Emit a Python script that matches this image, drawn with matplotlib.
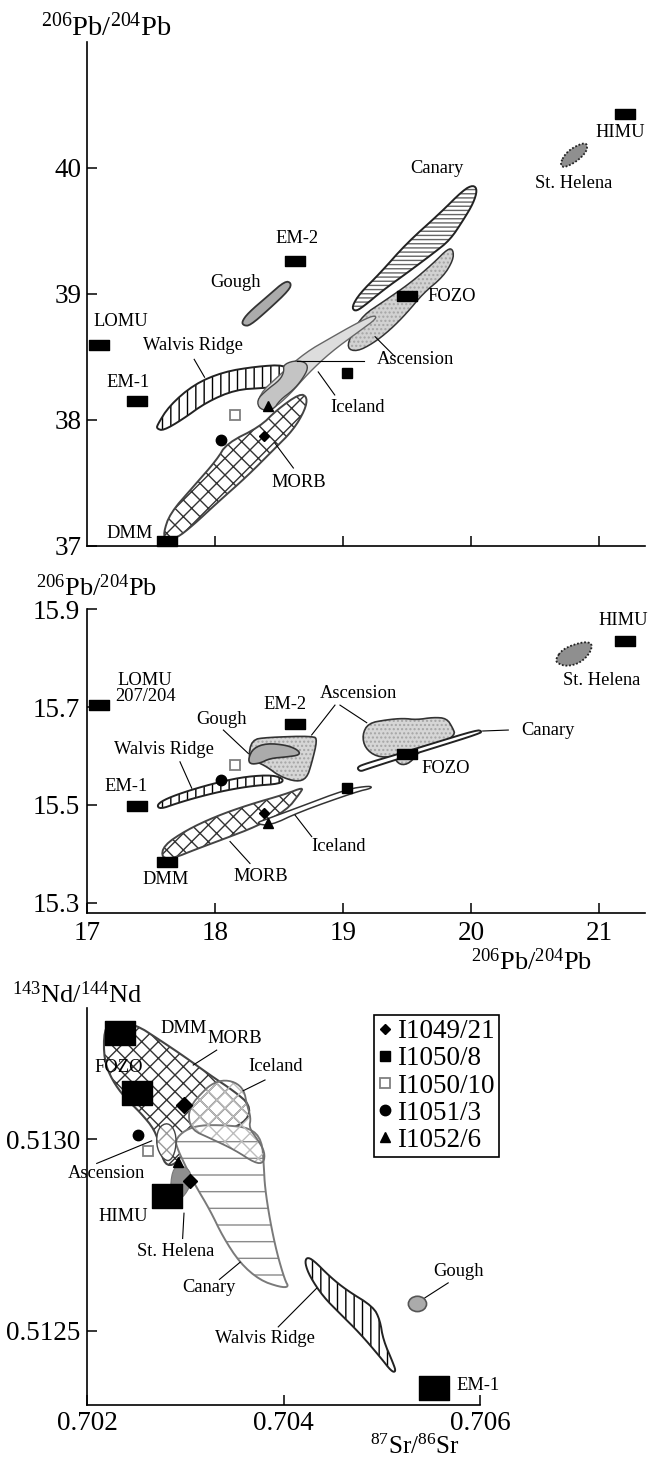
import numpy as np
import matplotlib
matplotlib.use('Agg')
import matplotlib.pyplot as plt
from matplotlib.patches import Polygon, Ellipse
from matplotlib.path import Path
from matplotlib.lines import Line2D

plt.rcParams['font.family'] = ['Liberation Serif', 'DejaVu Serif']
plt.rcParams['mathtext.fontset'] = 'custom'
plt.rcParams['mathtext.rm'] = 'Liberation Serif'
plt.rcParams['mathtext.it'] = 'Liberation Serif:italic'
plt.rcParams['hatch.linewidth'] = 1.0

# ---------------- sample data ----------------
sample_names = ['I1049/21', 'I1050/8', 'I1050/10', 'I1051/3', 'I1052/6']
pb206_samples = [18.38, 19.025, 18.15, 18.045, 18.41]
pb208_samples = [37.87, 38.37, 38.04, 37.84, 38.11]
pb207_samples = [15.484, 15.534, 15.581, 15.551, 15.463]
sr_samples = [0.70305, 0.70298, 0.70262, 0.70252, 0.70292]
nd_samples = [0.51289, 0.51309, 0.51297, 0.51301, 0.51294]

# ---------------- end members ----------------
em_names = ['DMM', 'EM-1', 'EM-2', 'HIMU', 'FOZO', 'LOMU']
em_pb206 = [17.62, 17.39, 18.62, 21.20, 19.50, 17.09]
em_pb208 = [37.04, 38.147, 39.26, 40.43, 38.986, 38.594]
em_pb207 = [15.384, 15.498, 15.665, 15.836, 15.605, 15.704]
em3_names = ['DMM', 'FOZO', 'HIMU', 'EM-1']
em3_sr = [0.702333, 0.702508, 0.702809, 0.705533]
em3_nd = [0.513278, 0.513120, 0.512851, 0.512350]

# ---------------- fields: 206Pb/204Pb vs 208Pb/204Pb ----------------
morb1_x = [17.594, 17.646, 17.828, 18.011, 18.089, 18.349, 18.480, 18.662, 18.719, 18.701, 18.609, 18.453, 18.245, 18.011, 17.828, 17.698, 17.615]
morb1_y = [37.098, 37.257, 37.469, 37.681, 37.813, 37.945, 38.078, 38.210, 38.179, 38.078, 37.919, 37.760, 37.548, 37.337, 37.164, 37.059, 37.051]
iceland1_x = [18.336, 18.513, 18.707, 18.901, 19.095, 19.240, 19.262, 19.127, 18.901, 18.723, 18.578, 18.448, 18.352]
iceland1_y = [38.197, 38.366, 38.536, 38.650, 38.762, 38.832, 38.805, 38.705, 38.536, 38.366, 38.197, 38.083, 38.083]
canary1_x = [19.066, 19.130, 19.287, 19.495, 19.755, 19.938, 20.016, 20.047, 20.016, 19.938, 19.834, 19.703, 19.495, 19.313, 19.156, 19.091]
canary1_y = [38.898, 39.005, 39.164, 39.402, 39.640, 39.825, 39.865, 39.825, 39.720, 39.587, 39.428, 39.322, 39.164, 39.031, 38.898, 38.859]
ascA1_x = [19.027, 19.066, 19.156, 19.313, 19.521, 19.703, 19.820, 19.859, 19.859, 19.781, 19.625, 19.495, 19.365, 19.234, 19.105]
ascA1_y = [38.568, 38.687, 38.832, 38.938, 39.084, 39.243, 39.362, 39.349, 39.269, 39.137, 39.005, 38.846, 38.713, 38.608, 38.541]
ascB1_x = [18.531, 18.609, 18.701, 18.727, 18.675, 18.609, 18.505, 18.453, 18.349, 18.323, 18.402, 18.505, 18.537]
ascB1_y = [38.435, 38.469, 38.461, 38.409, 38.316, 38.237, 38.157, 38.078, 38.078, 38.157, 38.237, 38.316, 38.382]
walvis1_x = [17.545, 17.641, 17.835, 18.061, 18.320, 18.545, 18.594, 18.562, 18.384, 18.158, 17.932, 17.738, 17.593, 17.545]
walvis1_y = [37.956, 38.112, 38.282, 38.380, 38.423, 38.437, 38.366, 38.268, 38.253, 38.239, 38.141, 37.999, 37.914, 37.929]
gough1_x = [18.206, 18.255, 18.416, 18.545, 18.594, 18.578, 18.416, 18.271, 18.223]
gough1_y = [38.776, 38.847, 38.988, 39.102, 39.087, 39.031, 38.875, 38.748, 38.748]
sthel1_x = [20.693, 20.745, 20.849, 20.906, 20.902, 20.823, 20.719]
sthel1_y = [40.037, 40.129, 40.191, 40.196, 40.129, 40.050, 39.998]

# ---------------- fields: 206Pb/204Pb vs 207Pb/204Pb ----------------
walvis2_x = [17.542, 17.620, 17.802, 18.036, 18.245, 18.453, 18.537, 18.505, 18.297, 18.089, 17.880, 17.698, 17.568]
walvis2_y = [15.500, 15.513, 15.530, 15.547, 15.558, 15.561, 15.552, 15.543, 15.539, 15.530, 15.517, 15.503, 15.491]
morb2_x = [17.596, 17.773, 18.000, 18.259, 18.550, 18.688, 18.662, 18.558, 18.323, 18.065, 17.838, 17.677, 17.580]
morb2_y = [15.417, 15.448, 15.476, 15.500, 15.522, 15.536, 15.524, 15.489, 15.456, 15.430, 15.408, 15.391, 15.391]
iceland2_x = [18.310, 18.414, 18.662, 19.027, 19.209, 19.224, 19.105, 18.662, 18.427]
iceland2_y = [15.462, 15.472, 15.496, 15.532, 15.539, 15.534, 15.527, 15.486, 15.457]
ascA2_x = [18.284, 18.402, 18.766, 18.797, 18.753, 18.714, 18.636, 18.505, 18.402, 18.323, 18.258]
ascA2_y = [15.633, 15.638, 15.641, 15.633, 15.585, 15.554, 15.547, 15.558, 15.578, 15.588, 15.595]
gough2_x = [18.258, 18.297, 18.402, 18.558, 18.648, 18.662, 18.558, 18.427, 18.349, 18.271]
gough2_y = [15.595, 15.616, 15.626, 15.622, 15.612, 15.602, 15.598, 15.595, 15.585, 15.583]
ascB2_x = [19.148, 19.195, 19.339, 19.469, 19.573, 19.703, 19.808, 19.855, 19.875, 19.755, 19.599, 19.521, 19.443, 19.391, 19.261, 19.170]
ascB2_y = [15.643, 15.667, 15.674, 15.677, 15.674, 15.679, 15.677, 15.657, 15.643, 15.623, 15.612, 15.585, 15.581, 15.598, 15.598, 15.616]
canary2_x = [19.105, 19.183, 19.443, 19.703, 20.042, 20.081, 20.068, 19.703, 19.443, 19.183, 19.130]
canary2_y = [15.577, 15.585, 15.605, 15.626, 15.653, 15.651, 15.646, 15.616, 15.595, 15.573, 15.568]
sthel2_x = [20.662, 20.719, 20.875, 20.948, 20.927, 20.849, 20.745, 20.667]
sthel2_y = [15.800, 15.820, 15.834, 15.830, 15.810, 15.790, 15.783, 15.790]

# ---------------- fields: 87Sr/86Sr vs 143Nd/144Nd ----------------
morb3_x = [0.702170, 0.702252, 0.702486, 0.702740, 0.702995, 0.703249, 0.703504, 0.703657, 0.703636, 0.703402, 0.703148, 0.702995, 0.702893, 0.702791, 0.702740, 0.702689, 0.702537, 0.702384, 0.702252, 0.702170]
morb3_y = [0.513286, 0.513306, 0.513301, 0.513259, 0.513215, 0.513168, 0.513124, 0.513090, 0.513050, 0.513019, 0.512998, 0.512972, 0.512933, 0.512933, 0.512977, 0.513024, 0.513071, 0.513108, 0.513155, 0.513207]
iceland3_x = [0.703148, 0.703250, 0.703372, 0.703504, 0.703596, 0.703626, 0.703667, 0.703647, 0.703738, 0.703808, 0.703798, 0.703707, 0.703504, 0.703250, 0.703066, 0.703025, 0.703076]
iceland3_y = [0.513116, 0.513142, 0.513155, 0.513150, 0.513129, 0.513090, 0.513056, 0.513030, 0.512998, 0.512967, 0.512938, 0.512938, 0.512972, 0.513003, 0.513024, 0.513063, 0.513095]
canary3_x = [0.702893, 0.702995, 0.703148, 0.703402, 0.703657, 0.703779, 0.703799, 0.703809, 0.703860, 0.703931, 0.704013, 0.704053, 0.703962, 0.703758, 0.703555, 0.703382, 0.703250, 0.703097, 0.702995, 0.702924]
canary3_y = [0.512998, 0.513024, 0.513037, 0.513037, 0.513030, 0.512998, 0.512927, 0.512875, 0.512789, 0.512703, 0.512632, 0.512614, 0.512614, 0.512632, 0.512677, 0.512745, 0.512815, 0.512881, 0.512933, 0.512972]
sthel3_x = [0.702863, 0.702944, 0.703046, 0.703066, 0.702995, 0.702924, 0.702842]
sthel3_y = [0.512920, 0.512933, 0.512920, 0.512888, 0.512854, 0.512841, 0.512854]
asc3_x = [0.702720, 0.702822, 0.702903, 0.702903, 0.702842, 0.702761, 0.702700]
asc3_y = [0.513030, 0.513045, 0.513019, 0.512972, 0.512941, 0.512951, 0.512985]
walvis3_x = [0.704234, 0.704301, 0.704472, 0.704641, 0.704912, 0.704981, 0.705014, 0.705116, 0.705144, 0.705100, 0.704981, 0.704777, 0.704573, 0.704403, 0.704268, 0.704217]
walvis3_y = [0.512692, 0.512685, 0.512641, 0.512606, 0.512563, 0.512528, 0.512476, 0.512415, 0.512393, 0.512393, 0.512432, 0.512493, 0.512545, 0.512589, 0.512641, 0.512676]
gough3_center = [0.705363, 0.512570]

# ---------------- helpers ----------------
W, H = 648, 1459
fig = plt.figure(figsize=(W / 100, H / 100), dpi=100)


def px_axes(x0, x1, y_top, y_bot):
    return fig.add_axes([x0 / W, 1 - y_bot / H, (x1 - x0) / W, (y_bot - y_top) / H])


def smooth(xs, ys, n=2):
    p = np.column_stack([xs, ys]).astype(float)
    for _ in range(n):
        q = np.roll(p, -1, axis=0)
        p = np.stack([0.75 * p + 0.25 * q, 0.25 * p + 0.75 * q], axis=1).reshape(-1, 2)
    return p


def field(ax, xs, ys, face='white', edge='black', lw=1.0, hatch=None, hcol='black', ls='-', z=2, n=2):
    pts = smooth(xs, ys, n)
    if hatch:
        ax.add_patch(Polygon(pts, closed=True, facecolor=face, edgecolor=hcol, lw=0,
                             hatch=hatch, zorder=z))
        ax.add_patch(Polygon(pts, closed=True, facecolor='none', edgecolor=edge, lw=lw,
                             ls=ls, zorder=z + 0.01, joinstyle='round'))
    else:
        ax.add_patch(Polygon(pts, closed=True, facecolor=face, edgecolor=edge, lw=lw,
                             ls=ls, zorder=z, joinstyle='round'))


rect_small = Path([(-1, -0.5), (1, -0.5), (1, 0.5), (-1, 0.5), (-1, -0.5)],
                  [Path.MOVETO, Path.LINETO, Path.LINETO, Path.LINETO, Path.CLOSEPOLY])
rect_big = Path([(-1, -0.78), (1, -0.78), (1, 0.78), (-1, 0.78), (-1, -0.78)],
                [Path.MOVETO, Path.LINETO, Path.LINETO, Path.LINETO, Path.CLOSEPOLY])

LAB = 13.3
TICK = 19.5


def label(ax, x, y, s, ha='center', fs=LAB):
    ax.text(x, y, s, ha=ha, va='center', fontsize=fs, zorder=10)


def leader(ax, p0, p1):
    ax.plot([p0[0], p1[0]], [p0[1], p1[1]], color='black', lw=0.8, zorder=9)


def style(ax):
    for s in ['top', 'right']:
        ax.spines[s].set_visible(False)
    for s in ['left', 'bottom']:
        ax.spines[s].set_linewidth(1.2)
    ax.tick_params(direction='in', length=7, width=1.1, labelsize=TICK)


sample_style = [
    dict(marker='D', ms=5.5, mfc='black', mec='black'),
    dict(marker='s', ms=6.5, mfc='black', mec='black'),
    dict(marker='s', ms=7, mfc='white', mec='#808080', mew=1.3),
    dict(marker='o', ms=7.5, mfc='black', mec='black'),
    dict(marker='^', ms=7.5, mfc='black', mec='black'),
]

# ================= Panel 1 =================
ax1 = px_axes(87.3, 645, 42, 545.7)
style(ax1)
ax1.set_xlim(17, 21.357)
ax1.set_ylim(37, 41.0)
ax1.set_xticks([18, 19, 20, 21])
ax1.set_yticks([37, 38, 39, 40])
ax1.tick_params(axis='x', labelbottom=False)
ax1.tick_params(axis='y', pad=4)

field(ax1, walvis1_x, walvis1_y, hatch='||', edge='#222222', lw=1.4, z=2)
field(ax1, morb1_x, morb1_y, hatch='xx', hcol='#333333', edge='#444444', lw=1.4, z=2.1)
field(ax1, ascA1_x, ascA1_y, face='#d2d2d2', hatch='....', hcol='#a5a5a5', edge='#333333', lw=1.1, z=2.2)
field(ax1, canary1_x, canary1_y, hatch='----', hcol='#666666', edge='#222222', lw=1.4, z=2.3)
field(ax1, iceland1_x, iceland1_y, face='#dddddd', edge='#666666', lw=1.0, z=2.4)
field(ax1, ascB1_x, ascB1_y, face='#c4c4c4', edge='#444444', lw=1.0, z=2.5)
field(ax1, gough1_x, gough1_y, face='#ababab', edge='#333333', lw=1.3, z=2.5)
field(ax1, sthel1_x, sthel1_y, face='#8f8f8f', edge='#222222', lw=1.3, ls=(0, (1, 1)), z=2.5)

ax1.plot(em_pb206, em_pb208, ls='none', marker=rect_small, ms=14.4, color='black',
         clip_on=False, zorder=6)
for i in range(len(sample_names)):
    ax1.plot(pb206_samples[i], pb208_samples[i], ls='none', zorder=7, **sample_style[i])

label(ax1, 21.16, 40.28, 'HIMU')
label(ax1, 20.797, 39.878, 'St. Helena')
label(ax1, 19.735, 39.998, 'Canary')
label(ax1, 18.634, 39.44, 'EM-2')
label(ax1, 18.158, 39.087, 'Gough')
label(ax1, 19.654, 38.978, 'FOZO', ha='left')
label(ax1, 17.264, 38.779, 'LOMU')
label(ax1, 17.826, 38.593, 'Walvis Ridge')
label(ax1, 19.56, 38.475, 'Ascension')
label(ax1, 17.318, 38.298, 'EM-1')
label(ax1, 19.11, 38.098, 'Iceland')
label(ax1, 18.648, 37.504, 'MORB')
label(ax1, 17.334, 37.10, 'DMM')
leader(ax1, (17.835, 38.480), (17.916, 38.338))
leader(ax1, (18.642, 38.465), (19.159, 38.465))
leader(ax1, (19.248, 38.660), (19.404, 38.501))
leader(ax1, (18.804, 38.380), (18.933, 38.197))
leader(ax1, (18.465, 37.815), (18.610, 37.617))

fig.text(41 / W, 1 - 27 / H, r'$^{206}$Pb/$^{204}$Pb', ha='left', va='center', fontsize=20.5)

# ================= Panel 2 =================
ax2 = px_axes(87.3, 645, 609.3, 913)
style(ax2)
ax2.set_xlim(17, 21.357)
ax2.set_ylim(15.2787, 15.9)
ax2.set_xticks([17, 18, 19, 20, 21])
ax2.set_xticklabels(['17', '18', '19', '20', '21'])
ax2.set_yticks([15.3, 15.5, 15.7, 15.9])
ax2.set_yticklabels(['15.3', '15.5', '15.7', '15.9'])
ax2.tick_params(axis='y', pad=5)
ax2.tick_params(axis='x', pad=6)

field(ax2, walvis2_x, walvis2_y, hatch='||', edge='#222222', lw=1.4, z=2)
field(ax2, morb2_x, morb2_y, hatch='xx', hcol='#333333', edge='#444444', lw=1.4, z=2.1)
field(ax2, iceland2_x, iceland2_y, face='white', edge='#333333', lw=1.1, z=2.2)
field(ax2, ascA2_x, ascA2_y, face='#d6d6d6', hatch='....', hcol='#a5a5a5', edge='#333333', lw=1.2, z=2.2)
field(ax2, gough2_x, gough2_y, face='#ababab', edge='#333333', lw=1.2, z=2.3)
field(ax2, ascB2_x, ascB2_y, face='#d6d6d6', hatch='....', hcol='#a5a5a5', edge='#333333', lw=1.2, z=2.2)
field(ax2, canary2_x, canary2_y, face='white', edge='#222222', lw=1.4, z=2.4)
field(ax2, sthel2_x, sthel2_y, face='#8f8f8f', edge='#222222', lw=1.3, ls=(0, (1, 1)), z=2.5)

ax2.plot(em_pb206, em_pb207, ls='none', marker=rect_small, ms=14.4, color='black',
         clip_on=False, zorder=6)
for i in range(len(sample_names)):
    ax2.plot(pb206_samples[i], pb207_samples[i], ls='none', zorder=7, **sample_style[i])

label(ax2, 21.188, 15.878, 'HIMU')
label(ax2, 21.019, 15.755, 'St. Helena')
ax2.text(17.453, 15.738, 'LOMU\n207/204', ha='center', va='center', fontsize=LAB,
         linespacing=0.95, zorder=10)
label(ax2, 18.545, 15.706, 'EM-2')
label(ax2, 19.117, 15.728, 'Ascension')
label(ax2, 18.05, 15.674, 'Gough')
label(ax2, 20.394, 15.653, 'Canary', ha='left')
label(ax2, 17.599, 15.613, 'Walvis Ridge')
label(ax2, 19.80, 15.575, 'FOZO')
label(ax2, 17.301, 15.537, 'EM-1')
label(ax2, 18.961, 15.414, 'Iceland')
label(ax2, 18.355, 15.353, 'MORB')
label(ax2, 17.612, 15.347, 'DMM')
leader(ax2, (17.724, 15.588), (17.816, 15.534))
leader(ax2, (18.063, 15.653), (18.258, 15.605))
leader(ax2, (18.935, 15.704), (18.753, 15.643))
leader(ax2, (18.974, 15.704), (19.183, 15.668))
leader(ax2, (20.089, 15.651), (20.289, 15.653))
leader(ax2, (18.623, 15.479), (18.753, 15.435))
leader(ax2, (18.115, 15.425), (18.271, 15.380))

fig.text(36 / W, 1 - 588 / H, r'$^{206}$Pb/$^{204}$Pb', ha='left', va='center', fontsize=19)
fig.text(592 / W, 1 - 962 / H, r'$^{206}$Pb/$^{204}$Pb', ha='right', va='center', fontsize=19)

# ================= Panel 3 =================
ax3 = px_axes(87.3, 480, 1008, 1405)
style(ax3)
ax3.set_xlim(0.702, 0.706)
ax3.set_ylim(0.512306, 0.513343)
ax3.set_xticks([0.702, 0.704, 0.706])
ax3.set_xticklabels(['0.702', '0.704', '0.706'])
ax3.set_yticks([0.5125, 0.5130])
ax3.set_yticklabels(['0.5125', '0.5130'])
ax3.tick_params(axis='y', pad=5)
ax3.tick_params(axis='x', pad=4)

field(ax3, morb3_x, morb3_y, hatch='xx', hcol='#333333', edge='#444444', lw=1.5, z=2)
field(ax3, canary3_x, canary3_y, face='white', hatch='-', hcol='#8a8a8a', edge='#7a7a7a', lw=1.4, z=2.1)
field(ax3, iceland3_x, iceland3_y, face='none', hatch='xx', hcol='#bdbdbd', edge='#707070', lw=1.3, z=2.2)
field(ax3, asc3_x, asc3_y, face='white', hatch='xx', hcol='#9a9a9a', edge='#444444', lw=1.0, z=2.3)
field(ax3, sthel3_x, sthel3_y, face='#8f8f8f', edge='#777777', lw=0.8, z=2.4)
field(ax3, walvis3_x, walvis3_y, hatch='||', edge='#222222', lw=1.4, z=2.1)
ax3.add_patch(Ellipse(gough3_center, 0.000185, 0.000040, facecolor='#ababab',
                      edgecolor='#555555', lw=1.2, zorder=2.3))

ax3.plot(em3_sr, em3_nd, ls='none', marker=rect_big, ms=22.3, color='black',
         clip_on=False, zorder=6)
p3_style = [dict(marker='D', ms=7, mfc='black', mec='black'),
            dict(marker='D', ms=8, mfc='black', mec='black'),
            sample_style[2], sample_style[3], sample_style[4]]
for i in range(len(sample_names)):
    ax3.plot(sr_samples[i], nd_samples[i], ls='none', zorder=7, **p3_style[i])

label(ax3, 0.702985, 0.513290, 'DMM')
label(ax3, 0.703504, 0.513264, 'MORB')
label(ax3, 0.702323, 0.513188, 'FOZO')
label(ax3, 0.703919, 0.513190, 'Iceland')
label(ax3, 0.702198, 0.512911, 'Ascension')
label(ax3, 0.702364, 0.512798, 'HIMU')
label(ax3, 0.702900, 0.512708, 'St. Helena')
label(ax3, 0.703240, 0.512612, 'Canary')
label(ax3, 0.703810, 0.512480, 'Walvis Ridge')
label(ax3, 0.705778, 0.512654, 'Gough')
ax3.text(0.705755, 0.512356, 'EM-1', ha='left', va='center', fontsize=LAB, zorder=10,
         clip_on=False)
leader(ax3, (0.703318, 0.513233), (0.703079, 0.513194))
leader(ax3, (0.703810, 0.513155), (0.703589, 0.513127))
leader(ax3, (0.702096, 0.512937), (0.702656, 0.512996))
leader(ax3, (0.702985, 0.512807), (0.702971, 0.512741))
leader(ax3, (0.703346, 0.512634), (0.703557, 0.512679))
leader(ax3, (0.703945, 0.512510), (0.704336, 0.512611))
leader(ax3, (0.705676, 0.512625), (0.705439, 0.512586))

handles = []
for i, name in enumerate(sample_names):
    st = dict(sample_style[i])
    handles.append(Line2D([], [], ls='none', label=name, **st))
leg = ax3.legend(handles=handles, loc='upper left', bbox_to_anchor=(0.730, 0.982),
                 borderaxespad=0, frameon=True, fancybox=False, framealpha=1,
                 edgecolor='black', fontsize=19.5, handlelength=0.55, handletextpad=0.15,
                 borderpad=0.15, labelspacing=0.08)
leg.get_frame().set_linewidth(1.2)

fig.text(12 / W, 1 - 995 / H, r'$^{143}$Nd/$^{144}$Nd', ha='left', va='center', fontsize=19)
fig.text(460 / W, 1 - 1447 / H, r'$^{87}$Sr/$^{86}$Sr', ha='right', va='center', fontsize=18)

fig.savefig('out.png', dpi=100)
